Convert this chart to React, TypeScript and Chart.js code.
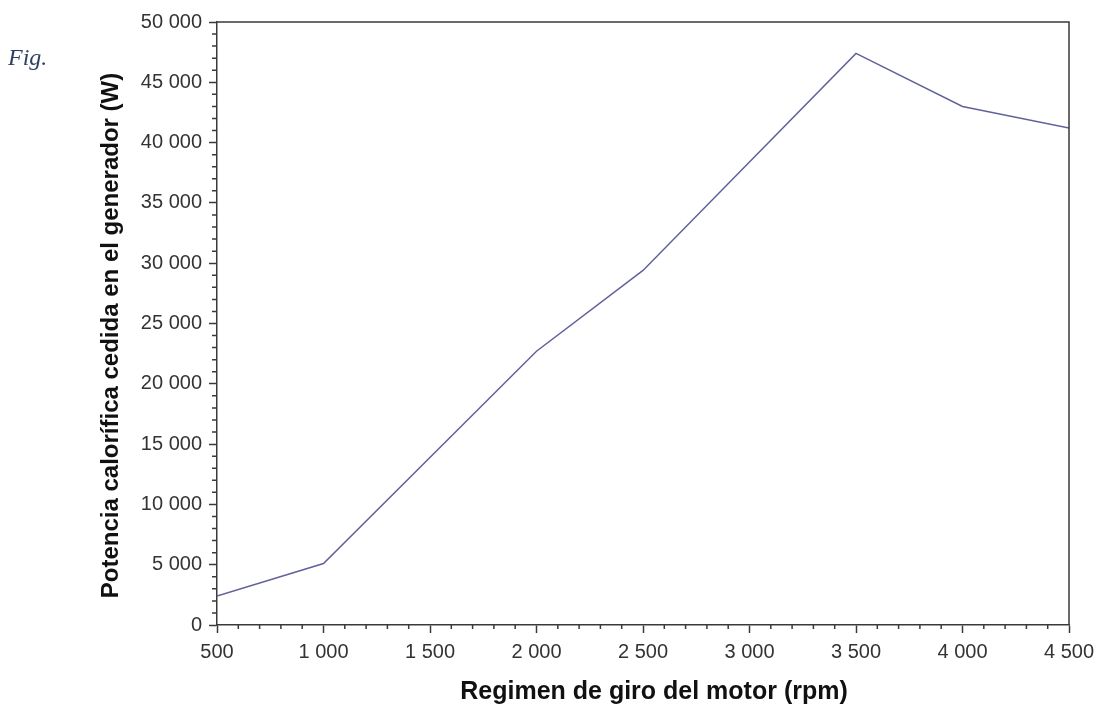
import React, { useEffect, useRef } from "react";
import { Chart, registerables } from "chart.js";

Chart.register(...registerables);

const rpm = [500, 1000, 2000, 2500, 3500, 4000, 4500];
const power = [2400, 5100, 22700, 29400, 47400, 43000, 41200];
const xTitle = "Regimen de giro del motor (rpm)";
const yTitle = "Potencia calorífica cedida en el generador (W)";
const figLabel = "Fig.";

const fmt = (v: number) =>
  String(Math.round(v)).replace(/\B(?=(\d{3})+(?!\d))/g, " ");

const axisColor = "#3a3a3a";
const textColor = "#333333";
const titleColor = "#111111";
const lineColor = "#62629a";

const decorations = {
  id: "decorations",
  afterDraw(chart: any) {
    const ctx = chart.ctx;
    const xs = chart.scales.x;
    const ys = chart.scales.y;
    const area = chart.chartArea;
    ctx.save();
    ctx.strokeStyle = axisColor;
    ctx.lineWidth = 1.5;
    ctx.beginPath();
    for (let v = xs.min; v <= xs.max; v += 100) {
      if (v % 500 === 0) continue;
      const px = xs.getPixelForValue(v);
      ctx.moveTo(px, area.bottom);
      ctx.lineTo(px, area.bottom + 4);
    }
    for (let v = ys.min; v <= ys.max; v += 1000) {
      if (v % 5000 === 0) continue;
      const py = ys.getPixelForValue(v);
      ctx.moveTo(area.left - 5, py);
      ctx.lineTo(area.left, py);
    }
    ctx.moveTo(area.left, area.top);
    ctx.lineTo(area.right, area.top);
    ctx.lineTo(area.right, area.bottom);
    ctx.stroke();

    // axis titles
    ctx.fillStyle = titleColor;
    ctx.textAlign = "center";
    ctx.textBaseline = "alphabetic";
    ctx.font = "bold 25px 'Liberation Sans', Arial, sans-serif";
    ctx.fillText(xTitle, (area.left + area.right) / 2 + 11, xs.bottom - 5);
    ctx.translate(ys.left + 23, (area.top + area.bottom) / 2 + 12);
    ctx.rotate(-Math.PI / 2);
    ctx.font = "bold 24px 'Liberation Sans', Arial, sans-serif";
    ctx.fillText(yTitle, 0, 0);
    ctx.restore();
  },
};

export default function App() {
  const ref = useRef<HTMLCanvasElement>(null);
  useEffect(() => {
    if (!ref.current) return;
    const chart = new Chart(ref.current, {
      type: "line",
      data: {
        datasets: [
          {
            data: rpm.map((x, i) => ({ x, y: power[i] })),
            borderColor: lineColor,
            borderWidth: 1.5,
            pointRadius: 0,
            tension: 0,
            fill: false,
          },
        ],
      },
      options: {
        animation: false,
        responsive: false,
        layout: { padding: { left: 95, right: 30, top: 22, bottom: 2 } },
        plugins: { legend: { display: false }, tooltip: { enabled: false } },
        scales: {
          x: {
            type: "linear",
            min: 500,
            max: 4500,
            afterFit: (s: any) => {
              s.height = 79;
              s.paddingLeft = 0;
              s.paddingRight = 0;
            },
            ticks: {
              stepSize: 500,
              autoSkip: false,
              maxRotation: 0,
              padding: 7,
              color: textColor,
              font: { family: "Liberation Sans, Arial, sans-serif", size: 20 },
              callback: (v: any) => fmt(Number(v)),
            },
            grid: {
              drawOnChartArea: false,
              tickLength: 8,
              tickColor: axisColor,
              tickWidth: 1.5,
            },
            border: { display: true, color: axisColor, width: 1.5 },
            title: { display: false },
          },
          y: {
            type: "linear",
            min: 0,
            max: 50000,
            afterFit: (s: any) => {
              s.width = 122;
              s.paddingTop = 0;
              s.paddingBottom = 0;
            },
            ticks: {
              stepSize: 5000,
              autoSkip: false,
              padding: 7,
              color: textColor,
              font: { family: "Liberation Sans, Arial, sans-serif", size: 20 },
              callback: (v: any) => fmt(Number(v)),
            },
            grid: {
              drawOnChartArea: false,
              tickLength: 8,
              tickColor: axisColor,
              tickWidth: 1.5,
            },
            border: { display: true, color: axisColor, width: 1.5 },
            title: { display: false },
          },
        },
      },
      plugins: [decorations],
    });
    return () => chart.destroy();
  }, []);
  return (
    <div
      style={{
        position: "absolute",
        left: 0,
        top: 0,
        width: 1099,
        height: 706,
        background: "#ffffff",
      }}
    >
      <canvas ref={ref} width={1099} height={706} />
      <span
        style={{
          position: "absolute",
          left: 8,
          top: 44,
          fontFamily: "Liberation Serif, serif",
          fontStyle: "italic",
          fontSize: 24,
          color: "#2e4263",
        }}
      >
        {figLabel}
      </span>
    </div>
  );
}
